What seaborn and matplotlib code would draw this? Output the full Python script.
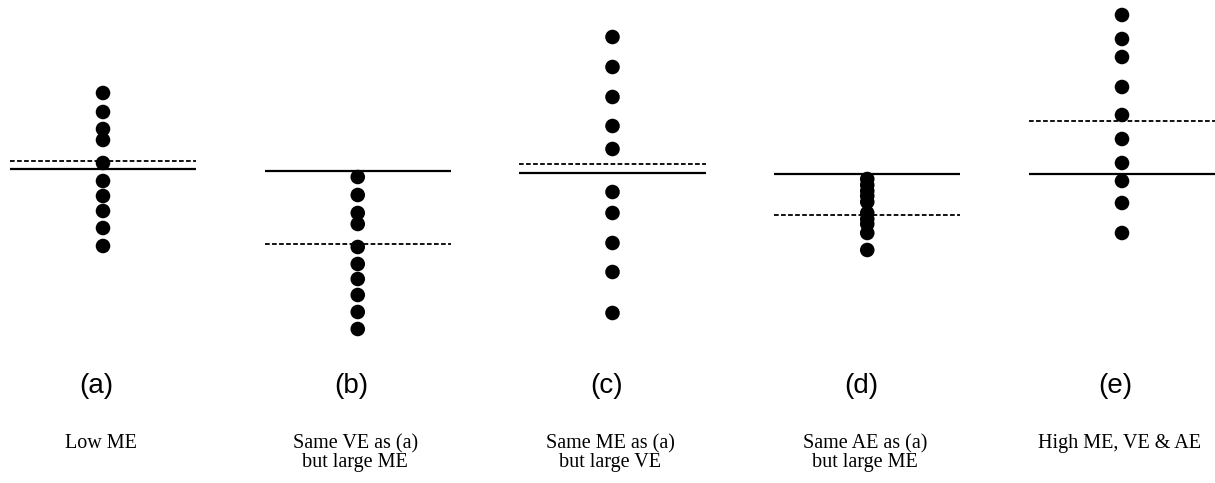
import pandas as pd
import matplotlib
matplotlib.use('Agg')
import matplotlib.pyplot as plt
import seaborn as sns

# values (arbitrary error units, up = larger)
panels = ['(a)', '(b)', '(c)', '(d)', '(e)']
desc_line1 = ['Low ME', 'Same VE as (a)', 'Same ME as (a)', 'Same AE as (a)', 'High ME, VE & AE']
desc_line2 = ['', 'but large ME', 'but large VE', 'but large ME', '']

dots_a = [39.0, 37.1, 35.4, 34.3, 32.0, 30.2, 28.7, 27.2, 25.5, 23.7]
dots_b = [30.6, 28.8, 27.0, 25.9, 23.6, 21.9, 20.4, 18.8, 17.1, 15.4]
dots_c = [44.6, 41.6, 38.6, 35.7, 33.4, 29.1, 27.0, 24.0, 21.1, 17.0]
dots_d = [30.4, 29.8, 29.2, 28.7, 28.1, 27.0, 26.4, 25.9, 25.0, 23.3]
dots_e = [46.8, 44.4, 42.6, 39.6, 36.8, 34.4, 32.0, 30.2, 28.0, 25.0]

true_vals = [31.4, 31.2, 31.0, 30.9, 30.9]   # solid line
mean_vals = [32.2, 23.9, 31.9, 26.8, 36.2]   # dashed line

rows = []
for i, d in enumerate([dots_a, dots_b, dots_c, dots_d, dots_e]):
    for v in d:
        rows.append({'panel': i, 'value': v})
df = pd.DataFrame(rows)

fig = plt.figure(figsize=(12.15, 4.83), dpi=100)
ax = fig.add_axes([0, 0, 1, 1])

sns.scatterplot(data=df, x='panel', y='value', color='black', s=110,
                edgecolor='none', ax=ax, legend=False)

half = 0.366
for i in range(len(panels)):
    ax.hlines(true_vals[i], i - half, i + half, color='black', lw=1.6)
    ax.hlines(mean_vals[i], i - half, i + half, color='black', lw=1.3,
              linestyles=(0, (2.6, 1.3)))
    ax.text(i - 0.025, 9.0, panels[i], ha='center', va='baseline',
            fontsize=20, family='Liberation Sans')
    ax.text(i - 0.01, 3.47, desc_line1[i], ha='center', va='baseline',
            fontsize=14.5, family='Liberation Serif')
    if desc_line2[i]:
        ax.text(i - 0.01, 1.63, desc_line2[i], ha='center', va='baseline',
                fontsize=14.5, family='Liberation Serif')

ax.set_xlim(-103 / 254.75, (1215 - 103) / 254.75)
ax.set_ylim(0, 48.3)
ax.axis('off')

plt.savefig('out.png', dpi=100)
